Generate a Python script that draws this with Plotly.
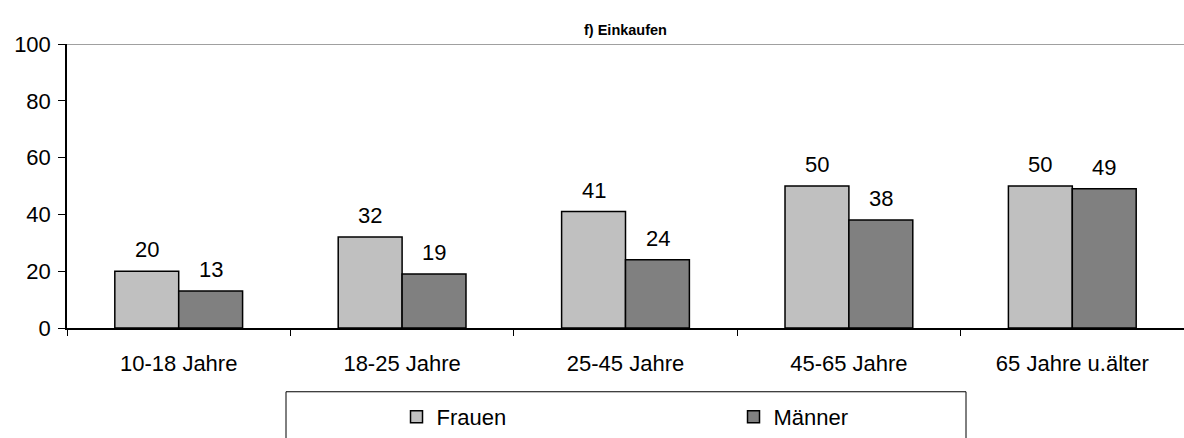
import plotly.graph_objects as go

categories = ["10-18 Jahre", "18-25 Jahre", "25-45 Jahre", "45-65 Jahre", "65 Jahre u.älter"]
frauen = [20, 32, 41, 50, 50]
maenner = [13, 19, 24, 38, 49]
y_ticks = [0, 20, 40, 60, 80, 100]

FONT = "Liberation Sans, Arial, sans-serif"

fig = go.Figure()
fig.add_trace(go.Bar(x=categories, y=frauen, name="Frauen",
                     marker=dict(color="#C0C0C0", line=dict(color="black", width=1.5))))
fig.add_trace(go.Bar(x=categories, y=maenner, name="Männer",
                     marker=dict(color="#808080", line=dict(color="black", width=1.5))))

annotations = []
for series, shift in ((frauen, -32), (maenner, 32)):
    for c, v in zip(categories, series):
        annotations.append(dict(x=c, y=v, text=str(v), showarrow=False, xshift=shift,
                                yanchor="bottom", yshift=7,
                                font=dict(family=FONT, size=22, color="black")))

annotations.append(dict(text="<b>f) Einkaufen</b>", x=0.5, y=1, xref="paper", yref="paper",
                        yanchor="bottom", yshift=4, showarrow=False,
                        font=dict(family=FONT, size=14.5, color="black")))

fig.update_layout(
    template="none",
    width=1184, height=438,
    margin=dict(l=67, r=0, t=44, b=100),
    plot_bgcolor="white", paper_bgcolor="white",
    barmode="group", bargap=0.428, bargroupgap=0,
    font=dict(family=FONT, size=22, color="black"),
    showlegend=True,
    legend=dict(orientation="h", x=0.295, xanchor="left", y=-0.24, yanchor="top",
                entrywidth=292, entrywidthmode="pixels",
                font=dict(family=FONT, size=22), bgcolor="rgba(0,0,0,0)",
                borderwidth=0, tracegroupgap=0),
    annotations=annotations,
    shapes=[
        dict(type="line", xref="paper", yref="y", x0=0, x1=1, y0=100, y1=100,
             line=dict(color="#808080", width=1.5)),
        dict(type="rect", xref="paper", yref="paper", x0=(286 - 67) / 1117, x1=(966 - 67) / 1117,
             y0=-0.2245, y1=-0.6, line=dict(color="black", width=1)),
    ],
)
fig.update_xaxes(type="category", showline=True, linecolor="black", linewidth=1.5,
                 ticks="outside", tickson="boundaries", ticklen=6, tickcolor="black",
                 tickwidth=1, ticklabelstandoff=15, showgrid=False, range=[-0.5, 4.5],
                 automargin=False, tickfont=dict(family=FONT, size=22))
fig.update_yaxes(range=[0, 100], tickvals=y_ticks, showline=True, linecolor="black",
                 linewidth=1.5, ticks="outside", ticklen=7, tickcolor="black", tickwidth=1,
                 ticklabelstandoff=3, showgrid=False, zeroline=False, automargin=False,
                 tickfont=dict(family=FONT, size=22))

fig.write_html(
    "out.html",
    config={"displayModeBar": False},
    post_script="document.body.style.margin='0px';document.body.style.overflow='hidden';",
)
